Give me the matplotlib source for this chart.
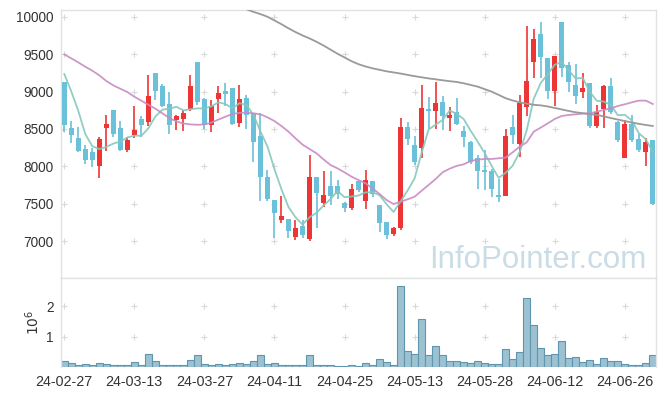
import matplotlib
matplotlib.use("Agg")
import matplotlib.pyplot as plt
import numpy as np

plt.rcParams['font.family'] = ['Liberation Sans', 'DejaVu Sans']

# daily candles (KRW), 2024-02-27 .. 2024-07-02
opens = [9126, 8511, 8378, 8231, 8186, 8008, 8516, 8752, 8511, 8217,
         8418, 8632, 8596, 9247, 9073, 8832, 8618, 8635, 8772, 9396,
         8900, 8556, 8904, 9008, 9046, 8574, 8913, 8717, 8405, 7857,
         7549, 7286, 7291, 7059, 7201, 7027, 7858, 7513, 7736, 7736,
         7504, 7446, 7803, 7540, 7803, 7482, 7252, 7090, 7172, 8522,
         8284, 8249, 8764, 8742, 8860, 8652, 8722, 8476, 8320, 8115,
         7950, 7942, 7616, 7607, 8521, 8294, 8797, 9399, 9765, 9444,
         9007, 9925, 9354, 9087, 8998, 9109, 8543, 8762, 9074, 8597,
         8115, 8561, 8365, 8196, 8352]
highs = [9126, 8609, 8520, 8284, 8240, 8396, 8685, 8752, 8605, 8396,
         8806, 8672, 9216, 9247, 9100, 8993, 8685, 8752, 9216, 9396,
         8917, 8885, 9073, 9109, 9046, 9082, 8949, 8717, 8717, 7946,
         7549, 7603, 7291, 7282, 7281, 8148, 7858, 7932, 7932, 7816,
         7527, 7758, 7803, 7946, 7803, 7482, 7252, 7188, 8641, 8596,
         8411, 9082, 8930, 9122, 8946, 8790, 8909, 8539, 8338, 8151,
         8218, 7964, 7830, 8494, 8686, 8953, 9880, 9836, 9934, 9444,
         9475, 9925, 9399, 9363, 9243, 9109, 8820, 9087, 9176, 8606,
         8619, 8686, 8427, 8383, 8352]
lows = [8453, 8306, 8195, 8030, 7994, 7847, 8208, 8396, 8208, 8195,
        8373, 8396, 8538, 8885, 8788, 8431, 8485, 8471, 8739, 8819,
        8498, 8453, 8712, 8806, 8547, 8521, 8494, 8062, 7531, 7536,
        7037, 7237, 7037, 7010, 7036, 7005, 7170, 7460, 7478, 7565,
        7390, 7420, 7650, 7430, 7593, 7125, 7027, 7072, 7148, 8282,
        8020, 8107, 8494, 8494, 8490, 8467, 8552, 8263, 8026, 7692,
        7683, 7594, 7518, 7607, 8294, 8129, 8677, 9176, 9176, 8900,
        8806, 9198, 8998, 8829, 8909, 8517, 8517, 8517, 8695, 8320,
        8115, 8320, 8196, 8008, 7483]
closes = [8551, 8418, 8204, 8083, 8083, 8360, 8565, 8431, 8217, 8351,
          8485, 8551, 8939, 9006, 8806, 8551, 8672, 8712, 9073, 8864,
          8551, 8806, 8979, 8966, 8570, 8900, 8686, 8320, 7852, 7567,
          7380, 7335, 7139, 7170, 7085, 7856, 7647, 7616, 7602, 7629,
          7437, 7696, 7683, 7816, 7629, 7246, 7085, 7170, 8522, 8360,
          8061, 8775, 8744, 8844, 8675, 8686, 8561, 8396, 8062, 7942,
          7928, 7697, 7594, 8405, 8418, 8842, 9140, 9702, 9466, 9007,
          9475, 9319, 9132, 8944, 9042, 8543, 8722, 9074, 8730, 8352,
          8561, 8352, 8218, 8329, 7496]

# volume, millions of shares
volume = [0.21, 0.14, 0.08, 0.11, 0.08, 0.14, 0.11, 0.05, 0.05, 0.08,
          0.18, 0.05, 0.44, 0.21, 0.08, 0.08, 0.05, 0.08, 0.24, 0.41,
          0.11, 0.08, 0.11, 0.08, 0.11, 0.14, 0.11, 0.21, 0.41, 0.11,
          0.14, 0.08, 0.05, 0.05, 0.05, 0.41, 0.08, 0.08, 0.08, 0.03,
          0.03, 0.08, 0.03, 0.14, 0.05, 0.28, 0.18, 0.08, 2.66, 0.54,
          0.44, 1.60, 0.41, 0.71, 0.38, 0.21, 0.21, 0.18, 0.14, 0.21,
          0.14, 0.11, 0.11, 0.61, 0.28, 0.51, 2.27, 1.40, 0.64, 0.41,
          0.44, 0.87, 0.31, 0.34, 0.18, 0.24, 0.11, 0.31, 0.21, 0.21,
          0.11, 0.08, 0.08, 0.14, 0.38]

# moving averages as drawn
ma5 = [9233, 9000, 8740, 8430, 8268, 8230, 8259, 8304, 8331, 8385,
       8410, 8407, 8509, 8666, 8757, 8771, 8795, 8749, 8763, 8774,
       8774, 8801, 8855, 8833, 8774, 8844, 8820, 8688, 8466, 8265,
       7961, 7691, 7455, 7318, 7222, 7317, 7379, 7475, 7561, 7670,
       7586, 7596, 7609, 7652, 7652, 7614, 7492, 7389, 7530, 7676,
       7839, 8177, 8492, 8556, 8620, 8745, 8702, 8632, 8476, 8329,
       8178, 8005, 7845, 7913, 8008, 8191, 8480, 8901, 9114, 9231,
       9358, 9394, 9280, 9175, 9182, 8996, 8877, 8865, 8822, 8684,
       8688, 8614, 8443, 8362, 8191]
ma20 = [9496, 9443, 9389, 9331, 9278, 9216, 9140, 9082, 9037, 8993,
        8930, 8877, 8823, 8770, 8708, 8645, 8600, 8572, 8560, 8555,
        8560, 8585, 8625, 8663, 8699, 8715, 8717, 8708, 8695, 8654,
        8605, 8538, 8463, 8374, 8290, 8231, 8173, 8092, 8017, 7972,
        7919, 7861, 7816, 7772, 7705, 7629, 7549, 7495, 7526, 7558,
        7593, 7673, 7750, 7830, 7920, 7968, 8005, 8026, 8071, 8089,
        8098, 8098, 8107, 8115, 8187, 8263, 8320, 8463, 8517, 8574,
        8632, 8673, 8686, 8695, 8704, 8708, 8730, 8753, 8775, 8806,
        8829, 8855, 8878, 8878, 8833]
ma_long = [None] * 24 + [
    10170, 10130, 10100, 10065, 10035, 10000, 9950, 9900, 9845, 9795,
    9750, 9710, 9665, 9615, 9560, 9505, 9455, 9405, 9365, 9335,
    9310, 9290, 9270, 9255, 9240, 9222, 9205, 9190, 9175, 9163,
    9150, 9138, 9128, 9110, 9088, 9065, 9032, 8998, 8955, 8910,
    8880, 8855, 8838, 8822, 8815, 8800, 8780, 8760, 8740, 8722,
    8710, 8698, 8686, 8668, 8645, 8625, 8605, 8585, 8568, 8552, 8539]

tick_labels = ['24-02-27', '24-03-13', '24-03-27', '24-04-11', '24-04-25',
               '24-05-13', '24-05-28', '24-06-12', '24-06-26']
price_ticks = [7000, 7500, 8000, 8500, 9000, 9500, 10000]

UP = '#ee3535'
DOWN = '#6bc0da'
GRIDC = '#d9d9d9'
SPINE = '#e2e2e2'

x = np.arange(len(closes))
o = np.array(opens)
c = np.array(closes)
colors = [UP if cc >= oo else DOWN for oo, cc in zip(o, c)]

fig = plt.figure(figsize=(6.65, 3.96), dpi=100)
ax = fig.add_axes([60.8 / 665, 1 - 278 / 396, 595.5 / 665, 268 / 396])
axv = fig.add_axes([60.8 / 665, 1 - 367 / 396, 595.5 / 665, 89 / 396], sharex=ax)

xticks = np.arange(0, len(closes), 10)

# "+" grid marks
gx, gy = np.meshgrid(xticks, price_ticks)
ax.plot(gx.ravel(), gy.ravel(), '+', color=GRIDC, ms=4, mew=0.8, zorder=0)
gx2, gy2 = np.meshgrid(xticks, [1, 2])
axv.plot(gx2.ravel(), gy2.ravel(), '+', color=GRIDC, ms=4, mew=0.8, zorder=0)

# candles
ax.vlines(x, lows, highs, colors=colors, linewidth=1.2, zorder=2)
ax.bar(x, np.abs(c - o), bottom=np.minimum(o, c), width=0.68,
       color=colors, linewidth=0, zorder=3)

# moving averages
ax.plot(x, ma5, color='#86c8bc', lw=1.3, alpha=0.9, zorder=4)
ax.plot(x, ma20, color='#c98cc3', lw=1.3, alpha=0.9, zorder=4)
ax.plot(x, np.array(ma_long, dtype=float), color='#9a9a9a', lw=1.3, zorder=4)

ax.text(0.984, 0.037, 'InfoPointer.com', transform=ax.transAxes,
        ha='right', va='baseline', fontsize=22.5, color='#cadce6', zorder=1)

ax.set_xlim(-0.5, len(closes) - 0.5)
ax.set_ylim(6506, 10090)
ax.set_yticks(price_ticks)
ax.set_yticklabels([str(p) for p in price_ticks])
ax.tick_params(axis='y', length=0, pad=5, labelsize=9.8, labelcolor='#333333')
ax.tick_params(axis='x', length=0, labelbottom=False)

# volume
axv.bar(x, volume, width=1.0, color='#9cc1d1', edgecolor='#5f95ae',
        linewidth=0.8, zorder=2)
axv.set_ylim(0, 2.94)
axv.set_yticks([1, 2])
axv.set_yticklabels(['1', '2'])
axv.set_ylabel(r'$10^6$', fontsize=10, color='#333333', labelpad=3)
axv.set_xticks(xticks)
axv.set_xticklabels(tick_labels)
axv.tick_params(axis='both', length=0, labelsize=9.8, labelcolor='#333333')
axv.tick_params(axis='x', pad=6, labelsize=10.3)
axv.tick_params(axis='y', pad=5)

for a in (ax, axv):
    for s in a.spines.values():
        s.set_color(SPINE)
        s.set_linewidth(1.0)
axv.spines['bottom'].set_visible(False)

fig.savefig('out.png', dpi=100)
